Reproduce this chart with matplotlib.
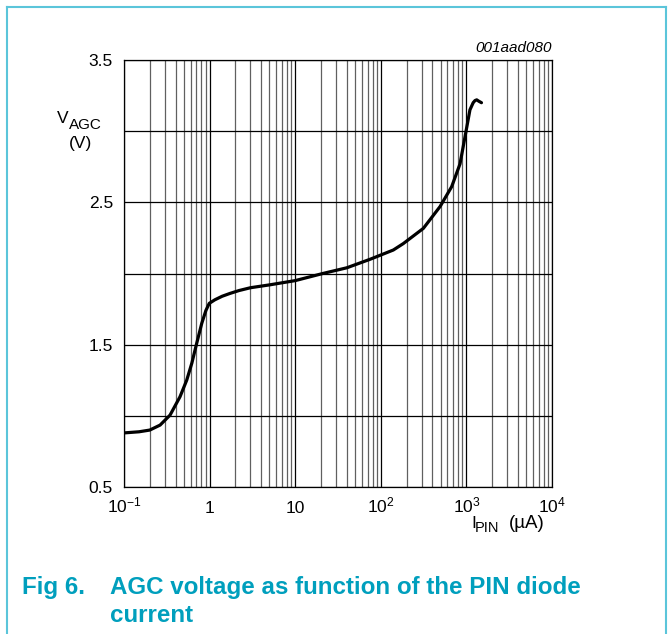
import numpy as np
import matplotlib
matplotlib.use('Agg')
import matplotlib.pyplot as plt
from matplotlib.ticker import FixedLocator, NullFormatter
from matplotlib.lines import Line2D

plt.rcParams['font.family'] = ['Liberation Sans', 'DejaVu Sans']
plt.rcParams['mathtext.fontset'] = 'custom'
plt.rcParams['mathtext.rm'] = 'Liberation Sans'

# values
ipin = [0.1, 0.15, 0.2, 0.264, 0.345, 0.451, 0.54, 0.62, 0.707, 0.81, 0.905, 0.99,
        1.15, 1.4, 1.73, 2.2, 3.0, 5.0, 10, 21, 40, 75, 140, 183, 314, 492, 673,
        842, 963, 1100, 1200, 1260, 1320, 1400, 1500]
vagc = [0.88, 0.888, 0.90, 0.935, 1.005, 1.134, 1.25, 1.37, 1.51, 1.65, 1.74, 1.79,
        1.815, 1.84, 1.86, 1.88, 1.90, 1.92, 1.95, 2.0, 2.04, 2.10, 2.165, 2.21, 2.317,
        2.47, 2.61, 2.77, 2.96, 3.15, 3.20, 3.215, 3.22, 3.21, 3.20]

xticks = [0.1, 1, 10, 100, 1000, 10000]
xticklabels = [r'$\mathregular{10^{-1}}$', '1', '10', r'$\mathregular{10^{2}}$',
               r'$\mathregular{10^{3}}$', r'$\mathregular{10^{4}}$']
ygrid = [0.5, 1.0, 1.5, 2.0, 2.5, 3.0, 3.5]
yticks = [0.5, 1.5, 2.5, 3.5]

teal = '#009fbd'
W, H = 669, 634

def px(x, y):
    return x / W, 1 - y / H

fig = plt.figure(figsize=(6.69, 6.34), dpi=100)
ax = fig.add_axes([124 / W, 1 - 487 / H, 428 / W, 427 / H])

ax.set_xscale('log')
ax.set_xlim(0.1, 10000)
ax.set_ylim(0.5, 3.5)

# grid lines
minors = [m * 10.0 ** e for e in range(-1, 4) for m in range(2, 10)]
for xm in minors:
    ax.axvline(xm, color='#606060', lw=0.9, zorder=1)
for xM in xticks:
    ax.axvline(xM, color='black', lw=0.9, zorder=1)
for yg in ygrid:
    ax.axhline(yg, color='black', lw=0.9, zorder=1)

ax.plot(ipin, vagc, color='black', lw=2.3, zorder=3, solid_capstyle='round')

ax.xaxis.set_major_locator(FixedLocator(xticks))
ax.xaxis.set_minor_locator(FixedLocator(minors))
ax.xaxis.set_minor_formatter(NullFormatter())
ax.set_xticks(xticks)
ax.set_xticklabels(xticklabels)
ax.set_yticks(yticks)
ax.set_yticklabels(['0.5', '1.5', '2.5', '3.5'])
ax.tick_params(axis='both', which='both', length=0, labelsize=12.5)
ax.tick_params(axis='y', pad=8)
ax.tick_params(axis='x', pad=18.5)
for lab in ax.get_xticklabels():
    lab.set_va('baseline')
for s in ax.spines.values():
    s.set_linewidth(0.9)

# axis titles
fig.text(*px(57, 123), 'V', fontsize=12.5, ha='left', va='baseline')
fig.text(*px(69, 129), 'AGC', fontsize=11, ha='left', va='baseline')
fig.text(*px(80.5, 148), '(V)', fontsize=12.5, ha='center', va='baseline')
fig.text(*px(471, 528), 'I', fontsize=12.5, ha='left', va='baseline')
fig.text(*px(475, 532), 'PIN', fontsize=10.5, ha='left', va='baseline')
fig.text(*px(545, 528), '(\u00b5A)', fontsize=13.5, ha='right', va='baseline')
fig.text(*px(552, 52), '001aad080', fontsize=11, style='italic', ha='right', va='baseline')

# caption
fig.text(*px(22, 594), 'Fig 6.', fontsize=17.4, fontweight='bold', color=teal, va='baseline')
fig.text(*px(110, 594), 'AGC voltage as function of the PIN diode', fontsize=17.4,
         fontweight='bold', color=teal, va='baseline')
fig.text(*px(110, 622), 'current', fontsize=17.4, fontweight='bold', color=teal, va='baseline')

# outer frame
frame = '#5bc5da'
fig.add_artist(Line2D([7 / W, 7 / W], [0, 1 - 7 / H], color=frame, lw=1.5))
fig.add_artist(Line2D([666 / W, 666 / W], [0, 1 - 7 / H], color=frame, lw=1.5))
fig.add_artist(Line2D([7 / W, 666 / W], [1 - 7 / H, 1 - 7 / H], color=frame, lw=1.5))

fig.savefig('out.png', dpi=100)
